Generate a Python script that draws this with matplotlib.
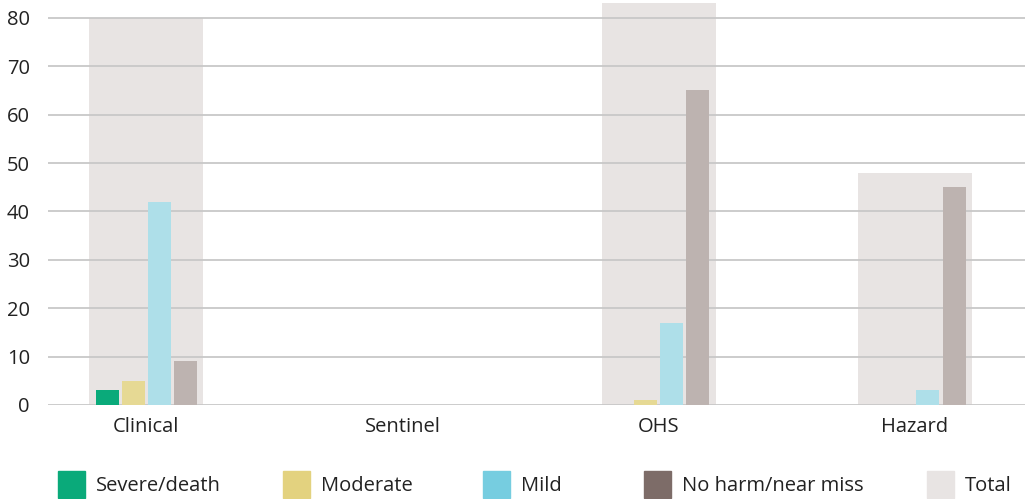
import numpy as np
import matplotlib
matplotlib.use("Agg")
import matplotlib.pyplot as plt
from matplotlib.patches import Rectangle

plt.rcParams['font.family'] = ['Open Sans', 'DejaVu Sans']

# data
categories = ["Clinical", "Sentinel", "OHS", "Hazard"]
series = ["Severe/death", "Moderate", "Mild", "No harm/near miss"]
severe = [3, 0, 0, 0]
moderate = [5, 0, 1, 0]
mild = [42, 0, 17, 3]
no_harm = [9, 0, 65, 45]
total = [80, 0, 83, 48]

bar_colors = ["#0aaa7a", "#e6d994", "#aedfe9", "#bdb3b0"]
legend_colors = ["#0aaa7a", "#e3d27f", "#76cde0", "#7d6c68"]
total_color = "#e8e4e3"

fig = plt.figure(figsize=(10.25, 4.99), dpi=100)
ax = fig.add_axes([48 / 1025, 94 / 499, 1 - 48 / 1025, 405 / 499])

x = np.arange(len(categories))
ax.bar(x, total, width=0.446, color=total_color, zorder=1)

pitch = 0.102
w = 0.09
for i, vals in enumerate([severe, moderate, mild, no_harm]):
    ax.bar(x + (i - 1.5) * pitch, vals, width=w, color=bar_colors[i], zorder=3)

ax.set_ylim(0, 83.7)
ax.set_xlim(-0.384, 3.43)
ax.set_yticks(range(0, 81, 10))
ax.set_xticks(x)
ax.set_xticklabels(categories)
ax.yaxis.grid(True, color="#c8c8c8", linewidth=1.3, zorder=2)
ax.set_axisbelow(False)
for s in ax.spines.values():
    s.set_visible(False)
ax.tick_params(axis="both", length=0, labelsize=14.5, colors="#222222")
ax.tick_params(axis="y", pad=13)
ax.tick_params(axis="x", pad=9)

# legend laid out along the bottom
leg_x = [58, 283, 483, 644, 927]
labels = series + ["Total"]
cols = legend_colors + [total_color]
for lx, lab, c in zip(leg_x, labels, cols):
    fig.patches.append(Rectangle((lx / 1025, 1 - 498 / 499), 27 / 1025, 27 / 499,
                                 transform=fig.transFigure, color=c))
    fig.text((lx + 38) / 1025, 1 - 486 / 499, lab, fontsize=14.5, va="center",
             ha="left", color="#222222")

fig.savefig("out.png", dpi=100)
